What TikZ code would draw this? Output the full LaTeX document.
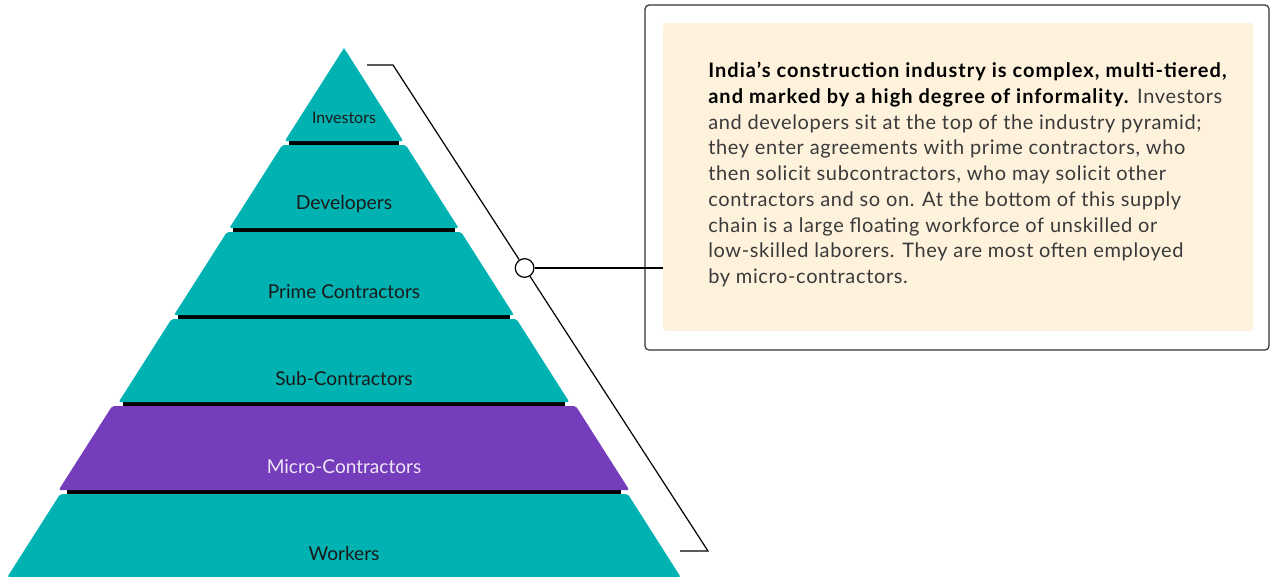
\documentclass[tikz,border=0pt]{standalone}
\usepackage{fontspec}
\setmainfont{Lato}
\newfontfamily\blurbfont{Lato}[LetterSpace=3.2, BoldFeatures={LetterSpace=5.2}]
\usetikzlibrary{positioning,calc}

\definecolor{tierteal}{HTML}{00B2B1}
\definecolor{tierpurple}{HTML}{753CBB}
\definecolor{notecream}{HTML}{FEF2DC}
\definecolor{inkdark}{HTML}{1A1A1A}
\definecolor{inkgray}{HTML}{3A3A3A}
\definecolor{inklight}{HTML}{EEE6F6}

\tikzset{
  tier/.style={rounded corners=1.5pt},
  band/.style={fill=black},
  tierlabel/.style={inner sep=0pt},
  bracket/.style={draw=black, line width=0.9pt},
  dot/.style={circle, draw=black, fill=white, line width=0.9pt, minimum size=14pt, inner sep=0pt},
  panel/.style={draw=black!80, line width=0.9pt, rounded corners=3pt, minimum width=468pt, minimum height=258.75pt},
  notebox/.style={fill=notecream, rounded corners=2pt, minimum width=442.5pt, minimum height=231pt},
  blurb/.style={align=left, inner sep=0pt, text=inkgray, font=\blurbfont\fontsize{15}{19.3}\selectfont}
}

\begin{document}
\begin{tikzpicture}[x=0.75pt, y=-0.75pt]
  \useasboundingbox (0,0) rectangle (1270,576);

  % black bands between the tiers
  \foreach \yb in {141,228,315,402,490} {
    \pgfmathsetmacro\hw{(\yb-48)*0.6364-4}
    \fill[band] (344-\hw,\yb-1) rectangle (344+\hw,\yb+5);
  }

  % tiers, top to bottom
  \foreach \yt/\yb/\nm/\txt/\fc/\tc/\fs/\grow in {
      48.5/141/inv/Investors/tierteal/inkdark/12/0,
      145/228/dev/Developers/tierteal/inkdark/14.5/0,
      232/315/prime/Prime Contractors/tierteal/inkdark/14.3/0,
      319/402/sub/Sub-Contractors/tierteal/inkdark/14.3/0,
      406/490/micro/Micro-Contractors/tierpurple/inklight/14.3/4,
      494/577/work/Workers/tierteal/inkdark/14.3/0} {
    \pgfmathsetmacro\htop{(\yt-48)*0.6364+\grow}
    \pgfmathsetmacro\hbot{(\yb-48)*0.6364+\grow}
    \fill[tier, fill=\fc] (344-\htop,\yt) -- (344+\htop,\yt) -- (344+\hbot,\yb) -- (344-\hbot,\yb) -- cycle;
    \node[tierlabel, text=\tc, font=\fontsize{\fs}{\fs}\selectfont] (\nm) at (344,\yb-23.5) {\txt};
  }

  % text panel
  \node[panel] (panel) at (957,177.5) {};
  \node[notebox] (note) at (958,177) {};
  \node[blurb, anchor=north west] (text) at (708,62) {%
    \textcolor{black}{\textbf{India’s construction industry is complex, multi-tiered,}}\\
    \textcolor{black}{\textbf{and marked by a high degree of informality.}} Investors\\
    and developers sit at the top of the industry pyramid;\\
    they enter agreements with prime contractors, who\\
    then solicit subcontractors, who may solicit other\\
    contractors and so on. At the bottom of this supply\\
    chain is a large floating workforce of unskilled or\\
    low-skilled laborers. They are most often employed\\
    by micro-contractors.};

  % bracket and leader
  \coordinate (brtop) at (367,65);
  \coordinate (brknee) at (393,65);
  \node[dot] (dot) at (524.6,268) {};
  \coordinate (brfoot) at (708,551);
  \coordinate (brbot) at (680,551);
  \draw[bracket] (brtop) -- (brknee) -- (dot);
  \draw[bracket] (dot) -- (brfoot) -- (brbot);
  \draw[bracket] (dot) -- (dot -| note.west);
\end{tikzpicture}
\end{document}
